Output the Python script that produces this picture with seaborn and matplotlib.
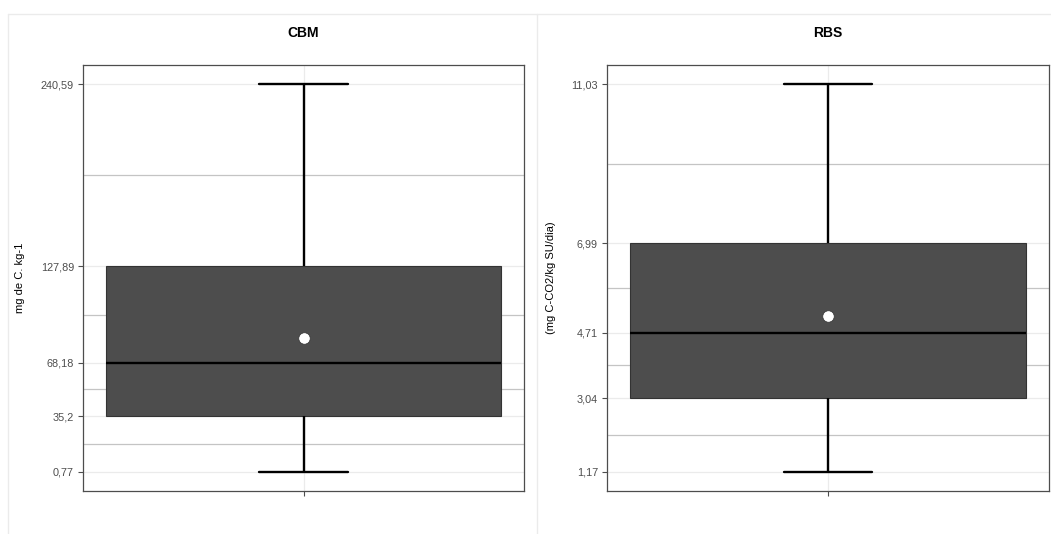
# Libraries
import numpy as np
import seaborn as sns
import matplotlib.pyplot as plt
from matplotlib.lines import Line2D

# Data: min, Q1, median, Q3, max and mean of each variable
cbm_stats = [0.77, 35.2, 68.18, 127.89, 240.59]
cbm_mean = 83.6
rbs_stats = [1.17, 3.04, 4.71, 6.99, 11.03]
rbs_mean = 5.13

titles = ['CBM', 'RBS']
ylabels = ['mg de C. kg-1', '(mg C-CO2/kg SU/dia)']

sns.set_style('white')
plt.rcParams['font.family'] = ['Liberation Sans', 'DejaVu Sans']

fig = plt.figure(figsize=(10.51, 5.34), dpi=100)

# Light frames around each panel image
for xs, ys in [([8, 8], [14, 534]), ([8, 1051], [14, 14]), ([537, 537], [14, 534])]:
    fig.add_artist(Line2D([x / 1051 for x in xs], [1 - y / 534 for y in ys],
                          color='#EBEBEB', lw=1, transform=fig.transFigure))

axes_pos = [[83 / 1051, 1 - 491 / 534, 441 / 1051, 426 / 534],
            [607 / 1051, 1 - 491 / 534, 442 / 1051, 426 / 534]]

panels = [(cbm_stats, cbm_mean), (rbs_stats, rbs_mean)]

for i, (stats, mean) in enumerate(panels):
    ax = fig.add_axes(axes_pos[i])
    # five points -> linear percentiles give exactly Q1, median and Q3
    sns.boxplot(y=stats, ax=ax, whis=(0, 100), width=0.8, color='#4D4D4D',
                saturation=1, linecolor='black', linewidth=1.7,
                boxprops={'edgecolor': '#333333', 'linewidth': 0.8},
                capwidths=0.178, zorder=3)
    ax.scatter([0], [mean], s=68, color='white', edgecolor='#333333',
               linewidth=0.5, zorder=5)

    rng = stats[-1] - stats[0]
    ax.set_ylim(stats[0] - 0.05 * rng, stats[-1] + 0.05 * rng)
    ax.set_xlim(-0.4455, 0.4455)

    ax.set_yticks(stats)
    ax.set_yticklabels([str(v).replace('.', ',') for v in stats])
    minor = [(a + b) / 2 for a, b in zip(stats[:-1], stats[1:])]
    ax.set_yticks(minor, minor=True)
    ax.set_xticks([0])
    ax.set_xticklabels([''])

    ax.grid(True, which='major', color='#EBEBEB', lw=0.9, zorder=0)
    ax.grid(True, which='minor', axis='y', color='#C4C4C4', lw=0.9, zorder=0)
    ax.set_axisbelow(True)
    ax.tick_params(axis='both', which='major', bottom=True, left=True,
                   length=3.5, width=0.8, color='#4D4D4D',
                   labelcolor='#4D4D4D', labelsize=7.8, pad=3)
    ax.tick_params(axis='y', which='minor', length=0)
    for s in ax.spines.values():
        s.set_color('#4D4D4D')
        s.set_linewidth(0.9)

    ax.set_ylabel(ylabels[i], fontsize=8, labelpad=11, color='black')
    ax.set_xlabel('')
    ax.set_title(titles[i], fontsize=10, fontweight='bold', pad=20,
                 color='black')

plt.savefig('out.png', dpi=100)
